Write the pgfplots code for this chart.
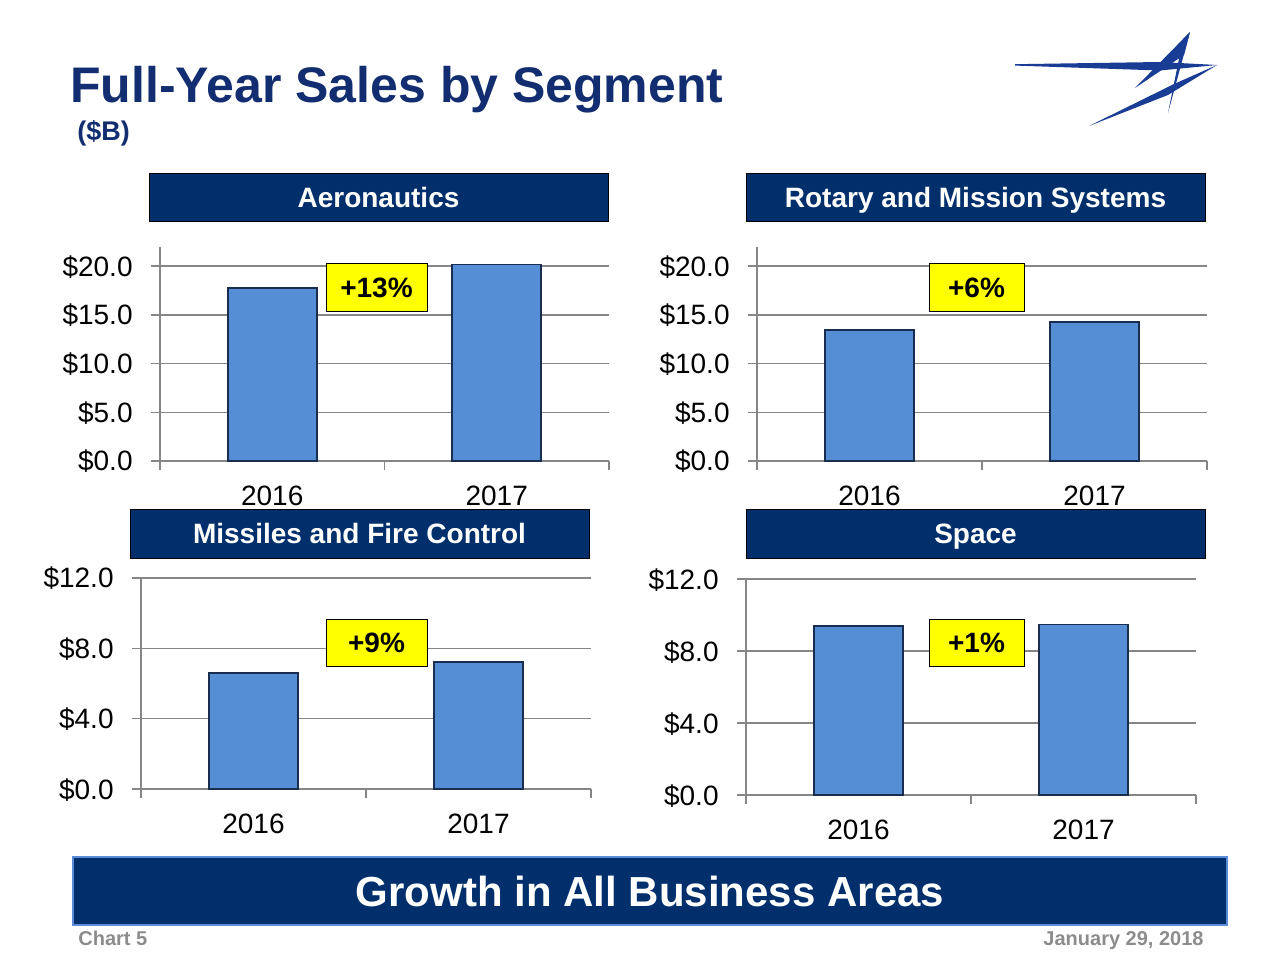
\documentclass[border=0pt]{standalone}
\usepackage{pgfplots}
\pgfplotsset{compat=1.18}
\usepackage{fontspec}
\setmainfont{Liberation Sans}
\definecolor{navy}{RGB}{0,47,108}
\definecolor{titlenavy}{RGB}{18,46,112}
\definecolor{barblue}{RGB}{85,142,213}
\definecolor{baredge}{RGB}{25,45,78}
\definecolor{gridgray}{RGB}{134,134,134}
\definecolor{pctyellow}{RGB}{255,255,0}
\definecolor{footgray}{RGB}{140,140,140}
\definecolor{logoblue}{RGB}{25,60,148}
\definecolor{bannerline}{RGB}{90,140,215}
\pgfdeclarehorizontalshading{bevel}{100bp}{color(0bp)=(baredge); color(7bp)=(barblue); color(93bp)=(barblue); color(100bp)=(baredge)}

\pgfplotsset{
  seg/.style={
    scale only axis,
    anchor=south west,
    xmin=-0.5, xmax=1.5, ymin=0,
    axis x line=bottom, axis y line=left,
    axis line style={draw=gridgray, line width=0.75pt, -},
    xtick={-0.5,0.5,1.5}, xticklabels={},
    extra x ticks={0,1}, extra x tick labels={2016,2017},
    extra x tick style={major tick length=0pt, tick style={draw=none}},
    tick align=outside,
    major tick length=4.5pt,
    tick style={draw=gridgray, line width=0.75pt},
    ymajorgrids, grid style={draw=gridgray, line width=0.75pt},
    every tick label/.append style={font=\fontsize{14}{16}\selectfont, text=black},
    yticklabel style={anchor=base east, inner sep=0pt, xshift=-9pt, yshift=-5pt},
    xticklabel style={anchor=north, inner sep=0pt, yshift=-12.5pt},
    clip=false,
  },
  segbar/.style={ybar, bar width=44.5pt, fill=barblue, shade, shading=bevel, draw=baredge, line width=0.9pt},
}

\begin{document}
\begin{tikzpicture}[x=0.5pt, y=0.5pt]
\useasboundingbox (0,0) rectangle (1280,960);
\fill[white] (0,0) rectangle (1280,960);

% title
\node[anchor=base west, inner sep=0pt, text=titlenavy, font=\fontsize{25}{28}\selectfont\bfseries] at (70,857) {Full-Year Sales by Segment};
\node[anchor=base west, inner sep=0pt, text=titlenavy, font=\fontsize{13.5}{15}\selectfont\bfseries] at (77,819) {(\$B)};

% logo
\fill[logoblue] (1015,895.8) -- (1160,898) -- (1217,895) -- (1160,889.5) -- (1015,894.4) -- cycle;
\fill[logoblue] (1190,928) -- (1135,872) -- (1184,905) -- cycle;
\fill[logoblue] (1190,928) -- (1168,847) -- (1183,921) -- cycle;
\fill[logoblue] (1089,834) -- (1174,876) -- (1217,895) -- (1168,865) -- cycle;

% header boxes
\filldraw[fill=navy, draw=black, line width=0.5pt] (149,738) rectangle (608,786);
\node[anchor=base, inner sep=0pt, text=white, font=\fontsize{14}{16}\selectfont\bfseries] at (378.5,752) {Aeronautics};
\filldraw[fill=navy, draw=black, line width=0.5pt] (746,738) rectangle (1205,786);
\node[anchor=base, inner sep=0pt, text=white, font=\fontsize{14}{16}\selectfont\bfseries] at (975.5,752) {Rotary and Mission Systems};
\filldraw[fill=navy, draw=black, line width=0.5pt] (130,402) rectangle (589,450);
\node[anchor=base, inner sep=0pt, text=white, font=\fontsize{14}{16}\selectfont\bfseries] at (359.5,416) {Missiles and Fire Control};
\filldraw[fill=navy, draw=black, line width=0.5pt] (746,402) rectangle (1205,450);
\node[anchor=base, inner sep=0pt, text=white, font=\fontsize{14}{16}\selectfont\bfseries] at (975.5,416) {Space};

% Aeronautics
\begin{axis}[seg, at={(80pt,249.5pt)}, width=224.5pt, height=107.25pt, ymax=22,
  ytick={0,5,10,15,20}, yticklabels={\$0.0,\$5.0,\$10.0,\$15.0,\$20.0}]
\addplot[segbar] coordinates {(0,17.77) (1,20.15)};
\end{axis}

% Rotary and Mission Systems
\begin{axis}[seg, at={(378.5pt,249.5pt)}, width=225pt, height=107.25pt, ymax=22,
  ytick={0,5,10,15,20}, yticklabels={\$0.0,\$5.0,\$10.0,\$15.0,\$20.0}]
\addplot[segbar] coordinates {(0,13.46) (1,14.22)};
\end{axis}

% Missiles and Fire Control
\begin{axis}[seg, at={(70.5pt,85.5pt)}, width=225pt, height=105.5pt, ymax=12,
  ytick={0,4,8,12}, yticklabels={\$0.0,\$4.0,\$8.0,\$12.0}]
\addplot[segbar] coordinates {(0,6.61) (1,7.21)};
\end{axis}

% Space
\begin{axis}[seg, at={(373pt,82.5pt)}, width=225pt, height=108pt, ymax=12,
  ytick={0,4,8,12}, yticklabels={\$0.0,\$4.0,\$8.0,\$12.0}]
\addplot[segbar] coordinates {(0,9.41) (1,9.47)};
\end{axis}

% growth boxes
\filldraw[fill=pctyellow, draw=black, line width=0.5pt] (326,648) rectangle (427,696);
\node[font=\fontsize{14}{16}\selectfont\bfseries] at (376.5,672) {+13\%};
\filldraw[fill=pctyellow, draw=black, line width=0.5pt] (929,648) rectangle (1024,696);
\node[font=\fontsize{14}{16}\selectfont\bfseries] at (976.5,672) {+6\%};
\filldraw[fill=pctyellow, draw=black, line width=0.5pt] (326,294) rectangle (427,341);
\node[font=\fontsize{14}{16}\selectfont\bfseries] at (376.5,317.5) {+9\%};
\filldraw[fill=pctyellow, draw=black, line width=0.5pt] (929,294) rectangle (1024,341);
\node[font=\fontsize{14}{16}\selectfont\bfseries] at (976.5,317.5) {+1\%};

% banner
\filldraw[fill=navy, draw=bannerline, line width=1pt] (73,35) rectangle (1227,103);
\node[text=white, font=\fontsize{21}{24}\selectfont\bfseries] at (650,69) {Growth in All Business Areas};

% footer
\node[anchor=base west, inner sep=0pt, text=footgray, font=\fontsize{10}{12}\selectfont\bfseries] at (78,15) {Chart 5};
\node[anchor=base east, inner sep=0pt, text=footgray, font=\fontsize{10}{12}\selectfont\bfseries] at (1204,15) {January 29, 2018};
\end{tikzpicture}
\end{document}
